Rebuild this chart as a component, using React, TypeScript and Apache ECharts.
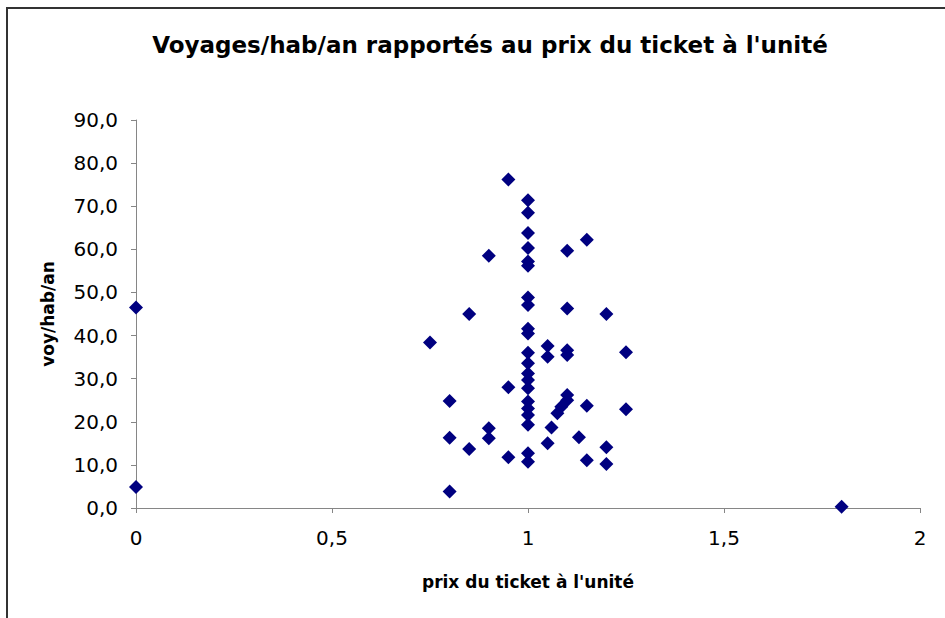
import React, { useEffect, useRef } from "react";
import * as echarts from "echarts";

const chartTitle = "Voyages/hab/an rapportés au prix du ticket à l'unité";
const xAxisName = "prix du ticket à l'unité";
const yAxisName = "voy/hab/an";

const priceValues = [
  0, 0, 0.75, 0.8, 0.8, 0.8, 0.85, 0.85, 0.9, 0.9, 0.9, 0.95, 0.95, 0.95,
  1, 1, 1, 1, 1, 1, 1, 1, 1, 1, 1, 1, 1, 1, 1, 1, 1, 1, 1, 1, 1,
  1.05, 1.05, 1.05, 1.06, 1.075, 1.085, 1.1, 1.1, 1.1, 1.1, 1.1, 1.1,
  1.13, 1.15, 1.15, 1.15, 1.2, 1.2, 1.2, 1.25, 1.25, 1.8,
];
const tripValues = [
  46.5, 4.9, 38.4, 24.8, 16.3, 3.8, 45.0, 13.7, 58.5, 18.5, 16.2, 76.2, 28.0, 11.8,
  71.4, 68.5, 63.8, 60.3, 57.2, 56.2, 48.8, 47.1, 41.6, 40.5, 36.0, 33.6, 31.2, 29.7,
  27.8, 24.7, 23.1, 21.6, 19.3, 12.7, 10.7,
  37.6, 35.1, 15.0, 18.7, 22.0, 23.5, 59.7, 46.3, 36.6, 35.5, 26.2, 25.0,
  16.4, 62.2, 23.7, 11.1, 45.0, 14.1, 10.2, 36.1, 22.9, 0.3,
];

export default function App() {
  const ref = useRef<HTMLDivElement>(null);
  useEffect(() => {
    if (!ref.current) return;
    const chart = echarts.init(ref.current, undefined, { renderer: "svg" });
    const data = priceValues.map((p, i) => [p, tripValues[i]]);
    const font = "DejaVu Sans";
    chart.setOption({
      animation: false,
      backgroundColor: "#ffffff",
      grid: { left: 136, right: 25, top: 120, bottom: 110, containLabel: false },
      graphic: [
        {
          type: "rect",
          z: -10,
          shape: { x: 7, y: 8, width: 1000, height: 1000 },
          style: { fill: "none", stroke: "#333333", lineWidth: 2 },
          silent: true,
        },
        {
          type: "text",
          x: 490,
          y: 45,
          style: {
            text: chartTitle,
            fontFamily: font,
            fontWeight: "bold",
            fontSize: 23,
            fill: "#000000",
            align: "center",
            verticalAlign: "middle",
          },
        },
      ],
      xAxis: {
        type: "value",
        min: 0,
        max: 2,
        interval: 0.5,
        name: xAxisName,
        nameLocation: "middle",
        nameGap: 65,
        nameTextStyle: { fontFamily: font, fontWeight: "bold", fontSize: 17, color: "#000" },
        axisLine: { show: true, onZero: false, lineStyle: { color: "#868686", width: 1 } },
        axisTick: { show: true, inside: false, length: 5, lineStyle: { color: "#868686" } },
        splitLine: { show: false },
        axisLabel: {
          margin: 20,
          fontFamily: font,
          fontSize: 20,
          color: "#000",
          formatter: (v: number) => String(v).replace(".", ","),
        },
      },
      yAxis: {
        type: "value",
        min: 0,
        max: 90,
        interval: 10,
        name: yAxisName,
        nameLocation: "middle",
        nameGap: 80,
        nameTextStyle: { fontFamily: font, fontWeight: "bold", fontSize: 17, color: "#000" },
        axisLine: { show: true, onZero: false, lineStyle: { color: "#868686", width: 1 } },
        axisTick: { show: true, inside: false, length: 5, lineStyle: { color: "#868686" } },
        splitLine: { show: false },
        axisLabel: {
          margin: 18,
          fontFamily: font,
          fontSize: 20,
          color: "#000",
          formatter: (v: number) => v.toFixed(1).replace(".", ","),
        },
      },
      series: [
        {
          type: "scatter",
          data,
          symbol: "diamond",
          symbolSize: 14,
          clip: false,
          itemStyle: { color: "#000080", opacity: 1 },
        },
      ],
    });
    return () => chart.dispose();
  }, []);
  return (
    <div
      ref={ref}
      style={{ position: "fixed", left: 0, top: 0, width: 945, height: 618, background: "#fff" }}
    />
  );
}
